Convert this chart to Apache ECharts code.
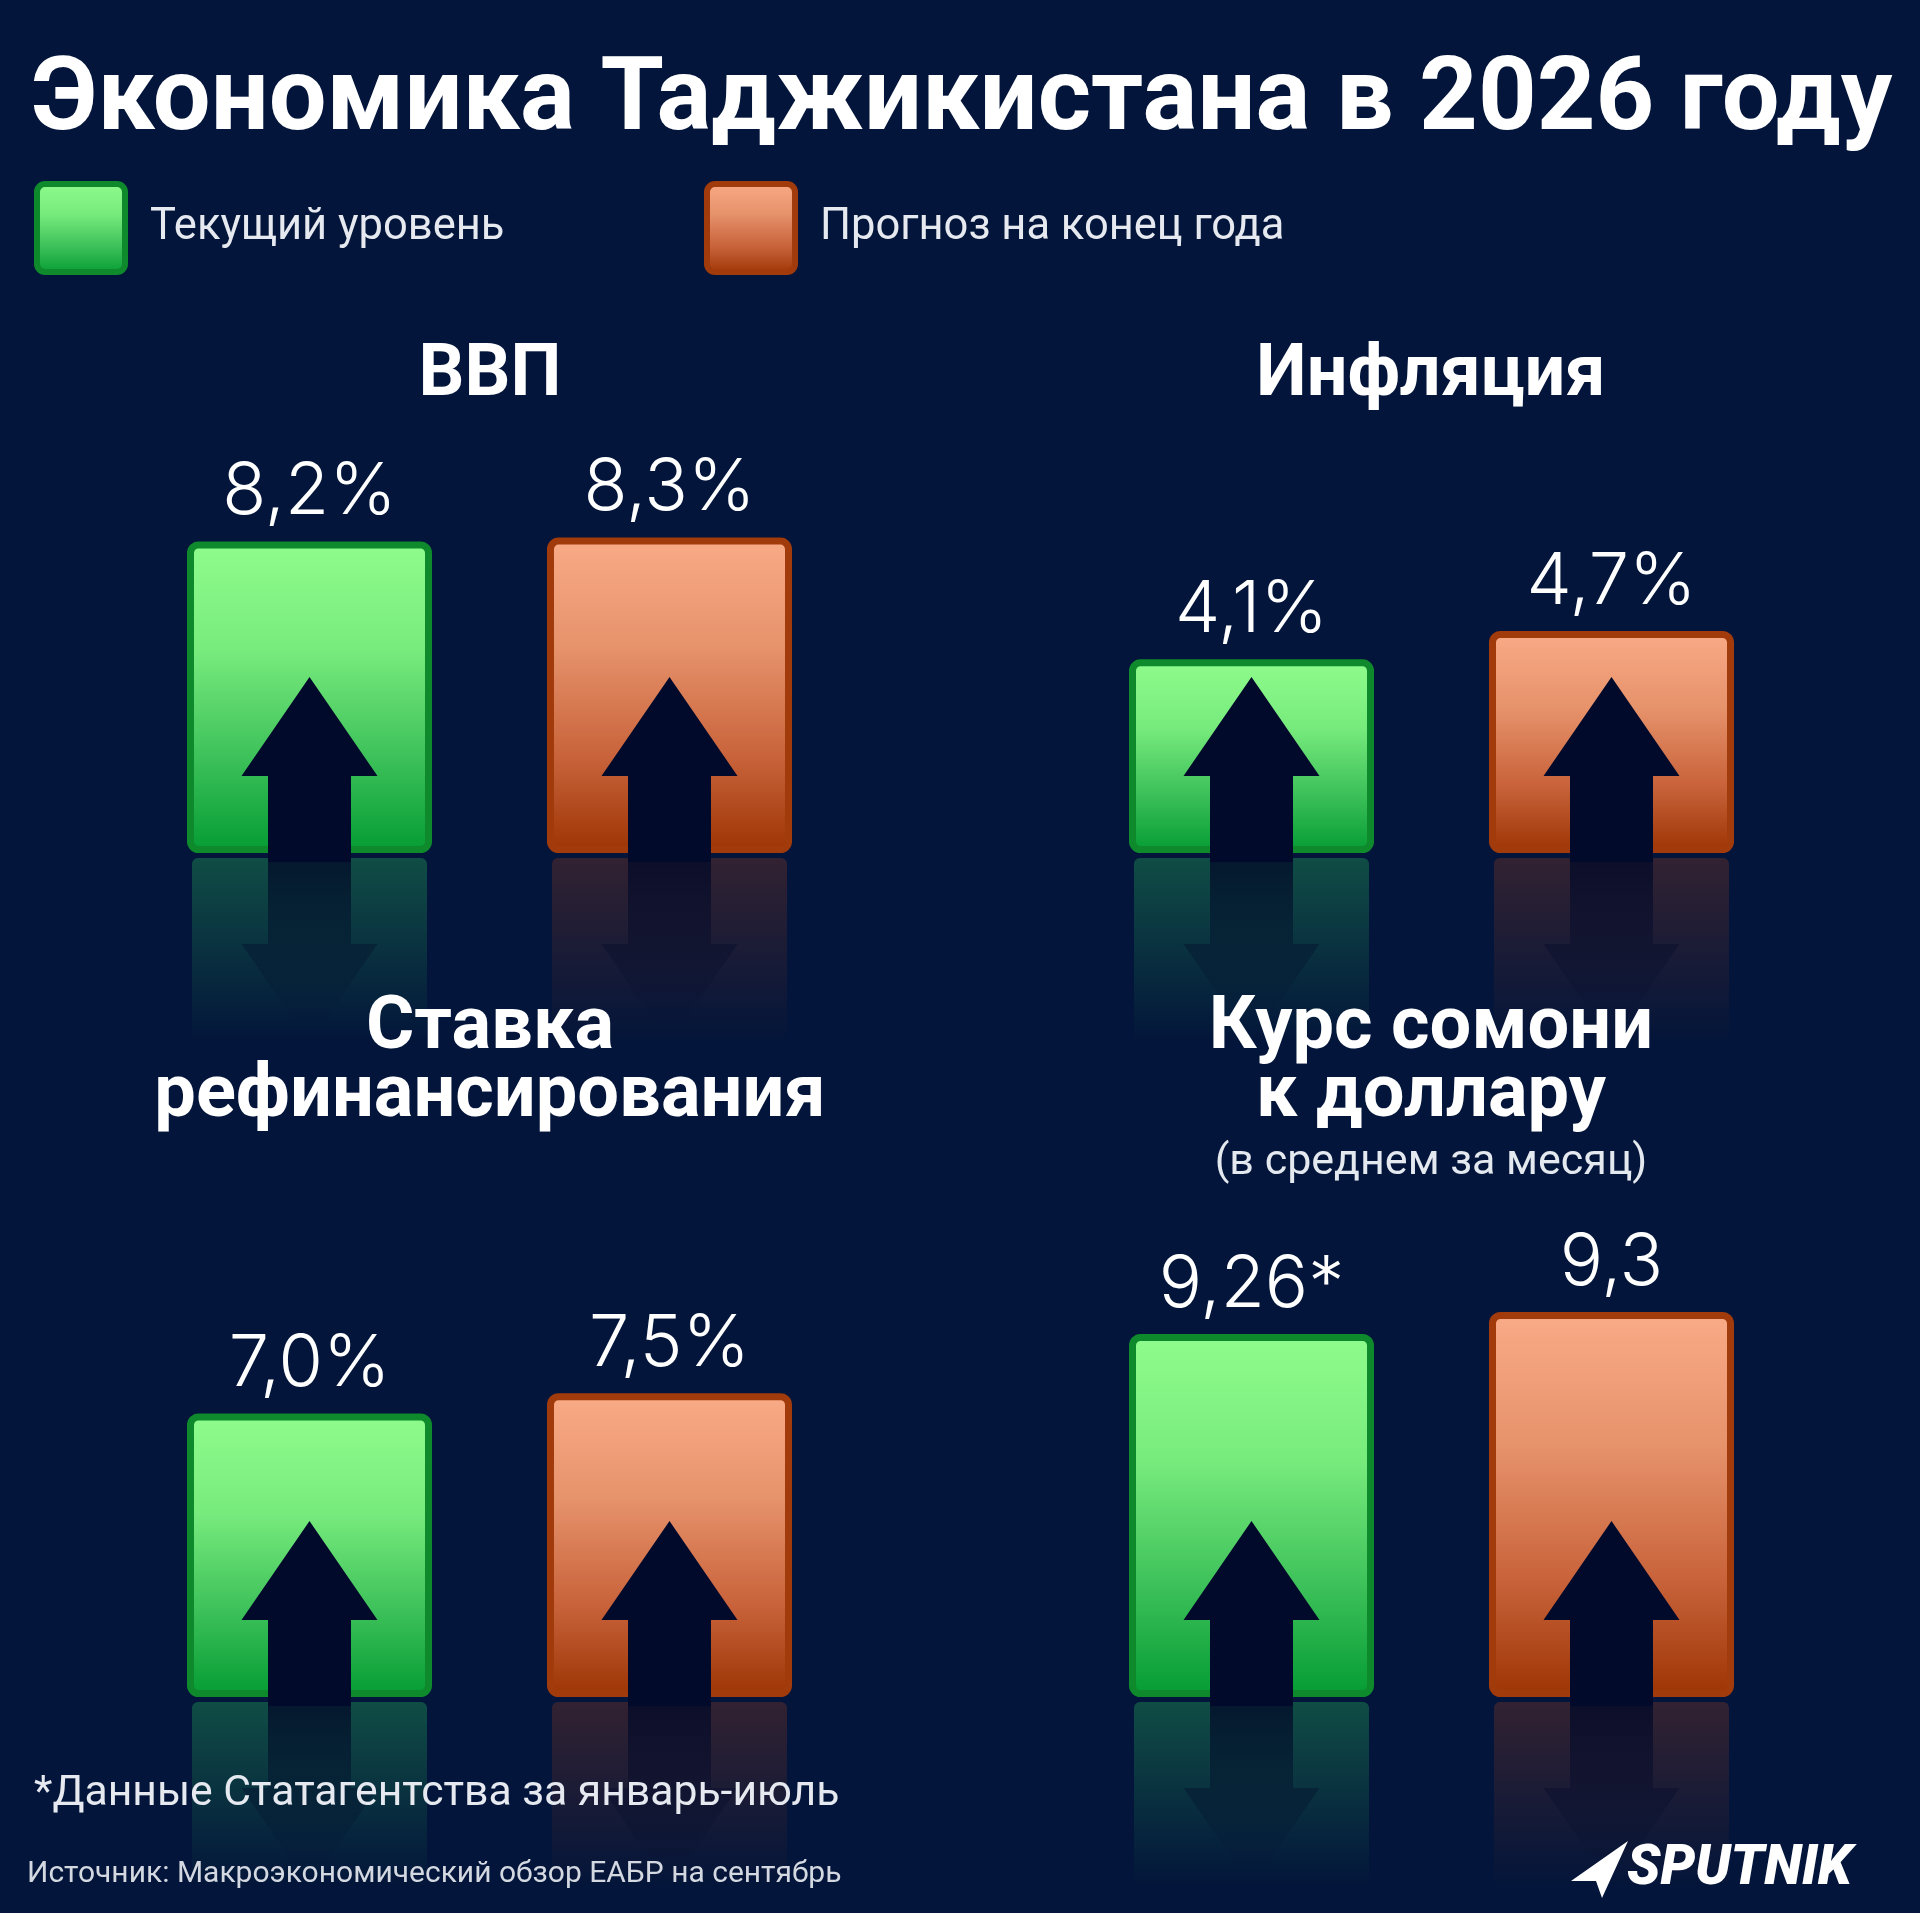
<!DOCTYPE html>
<html><head><meta charset="utf-8">
<script src="https://cdn.jsdelivr.net/npm/echarts@6/dist/echarts.min.js"></script>
<style>html,body{margin:0;padding:0;background:#03153a;}#c{width:1920px;height:1913px;}</style>
</head><body><div id="c"></div>
<script>
// ---- data ----
const categories = ['Текущий уровень', 'Прогноз на конец года'];
const gdpValues = [8.2, 8.3];
const gdpLabels = ['8,2%', '8,3%'];
const inflationValues = [4.1, 4.7];
const inflationLabels = ['4,1%', '4,7%'];
const rateValues = [7.0, 7.5];
const rateLabels = ['7,0%', '7,5%'];
const somoniValues = [9.26, 9.3];
const somoniLabels = ['9,26*', '9,3'];
const panelTitles = ['ВВП', 'Инфляция', 'Ставка\nрефинансирования', 'Курс сомони\nк доллару'];
const somoniSubtitle = '(в среднем за месяц)';
const chartTitle = 'Экономика Таджикистана в 2026 году';
const footnote = '*Данные Статагентства за январь-июль';
const sourceText = 'Источник: Макроэкономический обзор ЕАБР на сентябрь';
const brand = 'SPUTNIK';

// ---- layout / style ----
const BG = '#03153a';
const FONT = 'Roboto';
const LABEL_FONT = 'Inter';
const panels = [
  {values: gdpValues, labels: gdpLabels, left: 129.5, base: 853, h: 380, min: 0, max: 10},
  {values: inflationValues, labels: inflationLabels, left: 1071.5, base: 853, h: 378, min: 0, max: 8},
  {values: rateValues, labels: rateLabels, left: 129.5, base: 1697, h: 364.5, min: 0, max: 9},
  {values: somoniValues, labels: somoniLabels, left: 1071.5, base: 1697, h: 412.5, min: 8.6, max: 9.35}
];
const GRID_W = 720, BAR_W = 245, REFL_GAP = 5, REFL_LEN = 185;
const GREEN_FILL = {type:'linear',x:0,y:0,x2:0,y2:1,colorStops:[
  {offset:0,color:'#8ffc8d'},{offset:0.35,color:'#78eb7d'},{offset:0.7,color:'#3cc059'},{offset:1,color:'#049b33'}]};
const ORANGE_FILL = {type:'linear',x:0,y:0,x2:0,y2:1,colorStops:[
  {offset:0,color:'#f9ab87'},{offset:0.35,color:'#e6926b'},{offset:0.7,color:'#c8623a'},{offset:1,color:'#9c3403'}]};
const GREEN_BORDER = '#0e8a2c', ORANGE_BORDER = '#a23b0b';
const ARROW_COLOR = '#020a2b';
const ARROW_UP = 'path://M68 0L136 99L109.5 99L109.5 185L26.5 185L26.5 99L0 99Z';
const LEGEND_ICON = 'path://M8 0H80A8 8 0 0 1 88 8V80A8 8 0 0 1 80 88H8A8 8 0 0 1 0 80V8A8 8 0 0 1 8 0Z';

function reflGrad(rgb, y0, alpha) {
  return {type:'linear', x:0, y:y0, x2:0, y2:y0 + REFL_LEN, global:true, colorStops:[
    {offset:0, color:'rgba(' + rgb + ',' + alpha + ')'},
    {offset:1, color:'rgba(' + rgb + ',0)'}]};
}
// reflected arrow (drawn flipped by the inverse axis): fade from shaft end toward tip
const ARROW_REFL_FILL = {type:'linear', x:0, y:0, x2:0, y2:1, colorStops:[
  {offset:0, color:'rgba(1,9,40,0)'}, {offset:0.12, color:'rgba(1,9,40,0)'}, {offset:1, color:'rgba(1,9,40,0.8)'}]};

const grids = [], xAxes = [], yAxes = [], series = [];
panels.forEach((p, i) => {
  const gm = 2 * i, gr = 2 * i + 1;
  grids.push({left: p.left, width: GRID_W, top: p.base - p.h, height: p.h, outerBoundsMode: 'none'});
  grids.push({left: p.left, width: GRID_W, top: p.base + REFL_GAP, height: p.h, outerBoundsMode: 'none'});
  [gm, gr].forEach(g => {
    xAxes.push({type:'category', gridIndex: g, data: categories, show: false});
    yAxes.push({type:'value', gridIndex: g, min: p.min, max: p.max, startValue: p.min, show: false, inverse: g === gr});
  });
  const reflTop = p.base + REFL_GAP;
  const lbl = {show: true, position: 'top', distance: 13, formatter: q => p.labels[q.dataIndex],
    color: '#ffffff', fontSize: 72, fontFamily: LABEL_FONT, fontWeight: 300};
  [[0, GREEN_FILL, GREEN_BORDER, '40,185,90', 0.34], [1, ORANGE_FILL, ORANGE_BORDER, '185,70,25', 0.26]].forEach(([k, fill, border, rgb, a]) => {
    const d = p.values.map((v, j) => j === k ? v : '-');
    series.push({type:'bar', name: categories[k], xAxisIndex: gm, yAxisIndex: gm, data: d,
      barWidth: BAR_W, barGap: '-100%', z: 2,
      itemStyle: {color: fill, borderColor: border, borderWidth: 7, borderRadius: 8},
      label: lbl});
    series.push({type:'bar', name: categories[k], xAxisIndex: gr, yAxisIndex: gr, data: d,
      barWidth: BAR_W - 10, barGap: '-100%', z: 1, silent: true,
      itemStyle: {color: reflGrad(rgb, reflTop, a), borderRadius: 6}});
  });
  series.push({type:'pictorialBar', name:'arrow', xAxisIndex: gm, yAxisIndex: gm, data: p.values,
    symbol: ARROW_UP, symbolSize: [136, 185], symbolPosition: 'start', symbolOffset: [0, 9],
    barWidth: BAR_W, itemStyle: {color: ARROW_COLOR}, z: 3, silent: true});
  series.push({type:'pictorialBar', name:'arrowRefl', xAxisIndex: gr, yAxisIndex: gr, data: p.values,
    symbol: ARROW_UP, symbolSize: [136, 185], symbolPosition: 'start', symbolOffset: [0, 0],
    barWidth: BAR_W, itemStyle: {color: ARROW_REFL_FILL}, z: 2, silent: true});
});

function txt(x, y, text, font, extra) {
  return {type:'text', x: x, y: y, z: 100, silent: true, style: Object.assign({
    text: text, font: font, fill: '#ffffff', align: 'center', textAlign: 'center',
    verticalAlign: 'middle', textVerticalAlign: 'middle'}, extra || {})};
}

const legendText = {color: '#e6eaf0', fontSize: 43.5, fontFamily: FONT, padding: [0, 0, 0, 20]};
const option = {
  backgroundColor: BG,
  animation: false,
  title: {text: chartTitle, left: 31, top: 52, padding: 0,
    textStyle: {color: '#ffffff', fontSize: 102.5, fontWeight: 'bold', fontFamily: FONT}},
  legend: [
    {data: [categories[0]], left: 34, top: 181, padding: 0, itemWidth: 88, itemHeight: 88, icon: LEGEND_ICON,
      selectedMode: false, itemStyle: {color: GREEN_FILL, borderColor: GREEN_BORDER, borderWidth: 6}, textStyle: legendText},
    {data: [categories[1]], left: 704, top: 181, padding: 0, itemWidth: 88, itemHeight: 88, icon: LEGEND_ICON,
      selectedMode: false, itemStyle: {color: ORANGE_FILL, borderColor: ORANGE_BORDER, borderWidth: 6}, textStyle: legendText}
  ],
  grid: grids, xAxis: xAxes, yAxis: yAxes, series: series,
  graphic: [
    txt(490, 377, panelTitles[0], 'bold 72px ' + FONT),
    txt(1431, 377, panelTitles[1], 'bold 72px ' + FONT),
    txt(490, 995, panelTitles[2], 'bold 74px ' + FONT, {verticalAlign: 'top', textVerticalAlign: 'top', lineHeight: 68}),
    txt(1431, 995, panelTitles[3], 'bold 74px ' + FONT, {verticalAlign: 'top', textVerticalAlign: 'top', lineHeight: 68}),
    txt(1431, 1163, somoniSubtitle, '43px ' + FONT, {fill: '#e4e8ef'}),
    txt(34, 1794, footnote, '42.7px ' + FONT, {fill: '#e6eaf0', align: 'left', textAlign: 'left'}),
    txt(27, 1874, sourceText, '30px ' + FONT, {fill: '#d3d8e1', align: 'left', textAlign: 'left'}),
    {type: 'polygon', z: 100, silent: true, shape: {points: [[1628, 1841], [1571, 1881], [1596, 1881], [1602, 1898]]}, style: {fill: '#ffffff'}},
    txt(1627, 1870, brand, 'italic 900 55px ' + FONT, {align: 'left', textAlign: 'left'})
  ]
};
const chart = echarts.init(document.getElementById('c'), null, {renderer: 'canvas'});
chart.setOption(option);
</script></body></html>
